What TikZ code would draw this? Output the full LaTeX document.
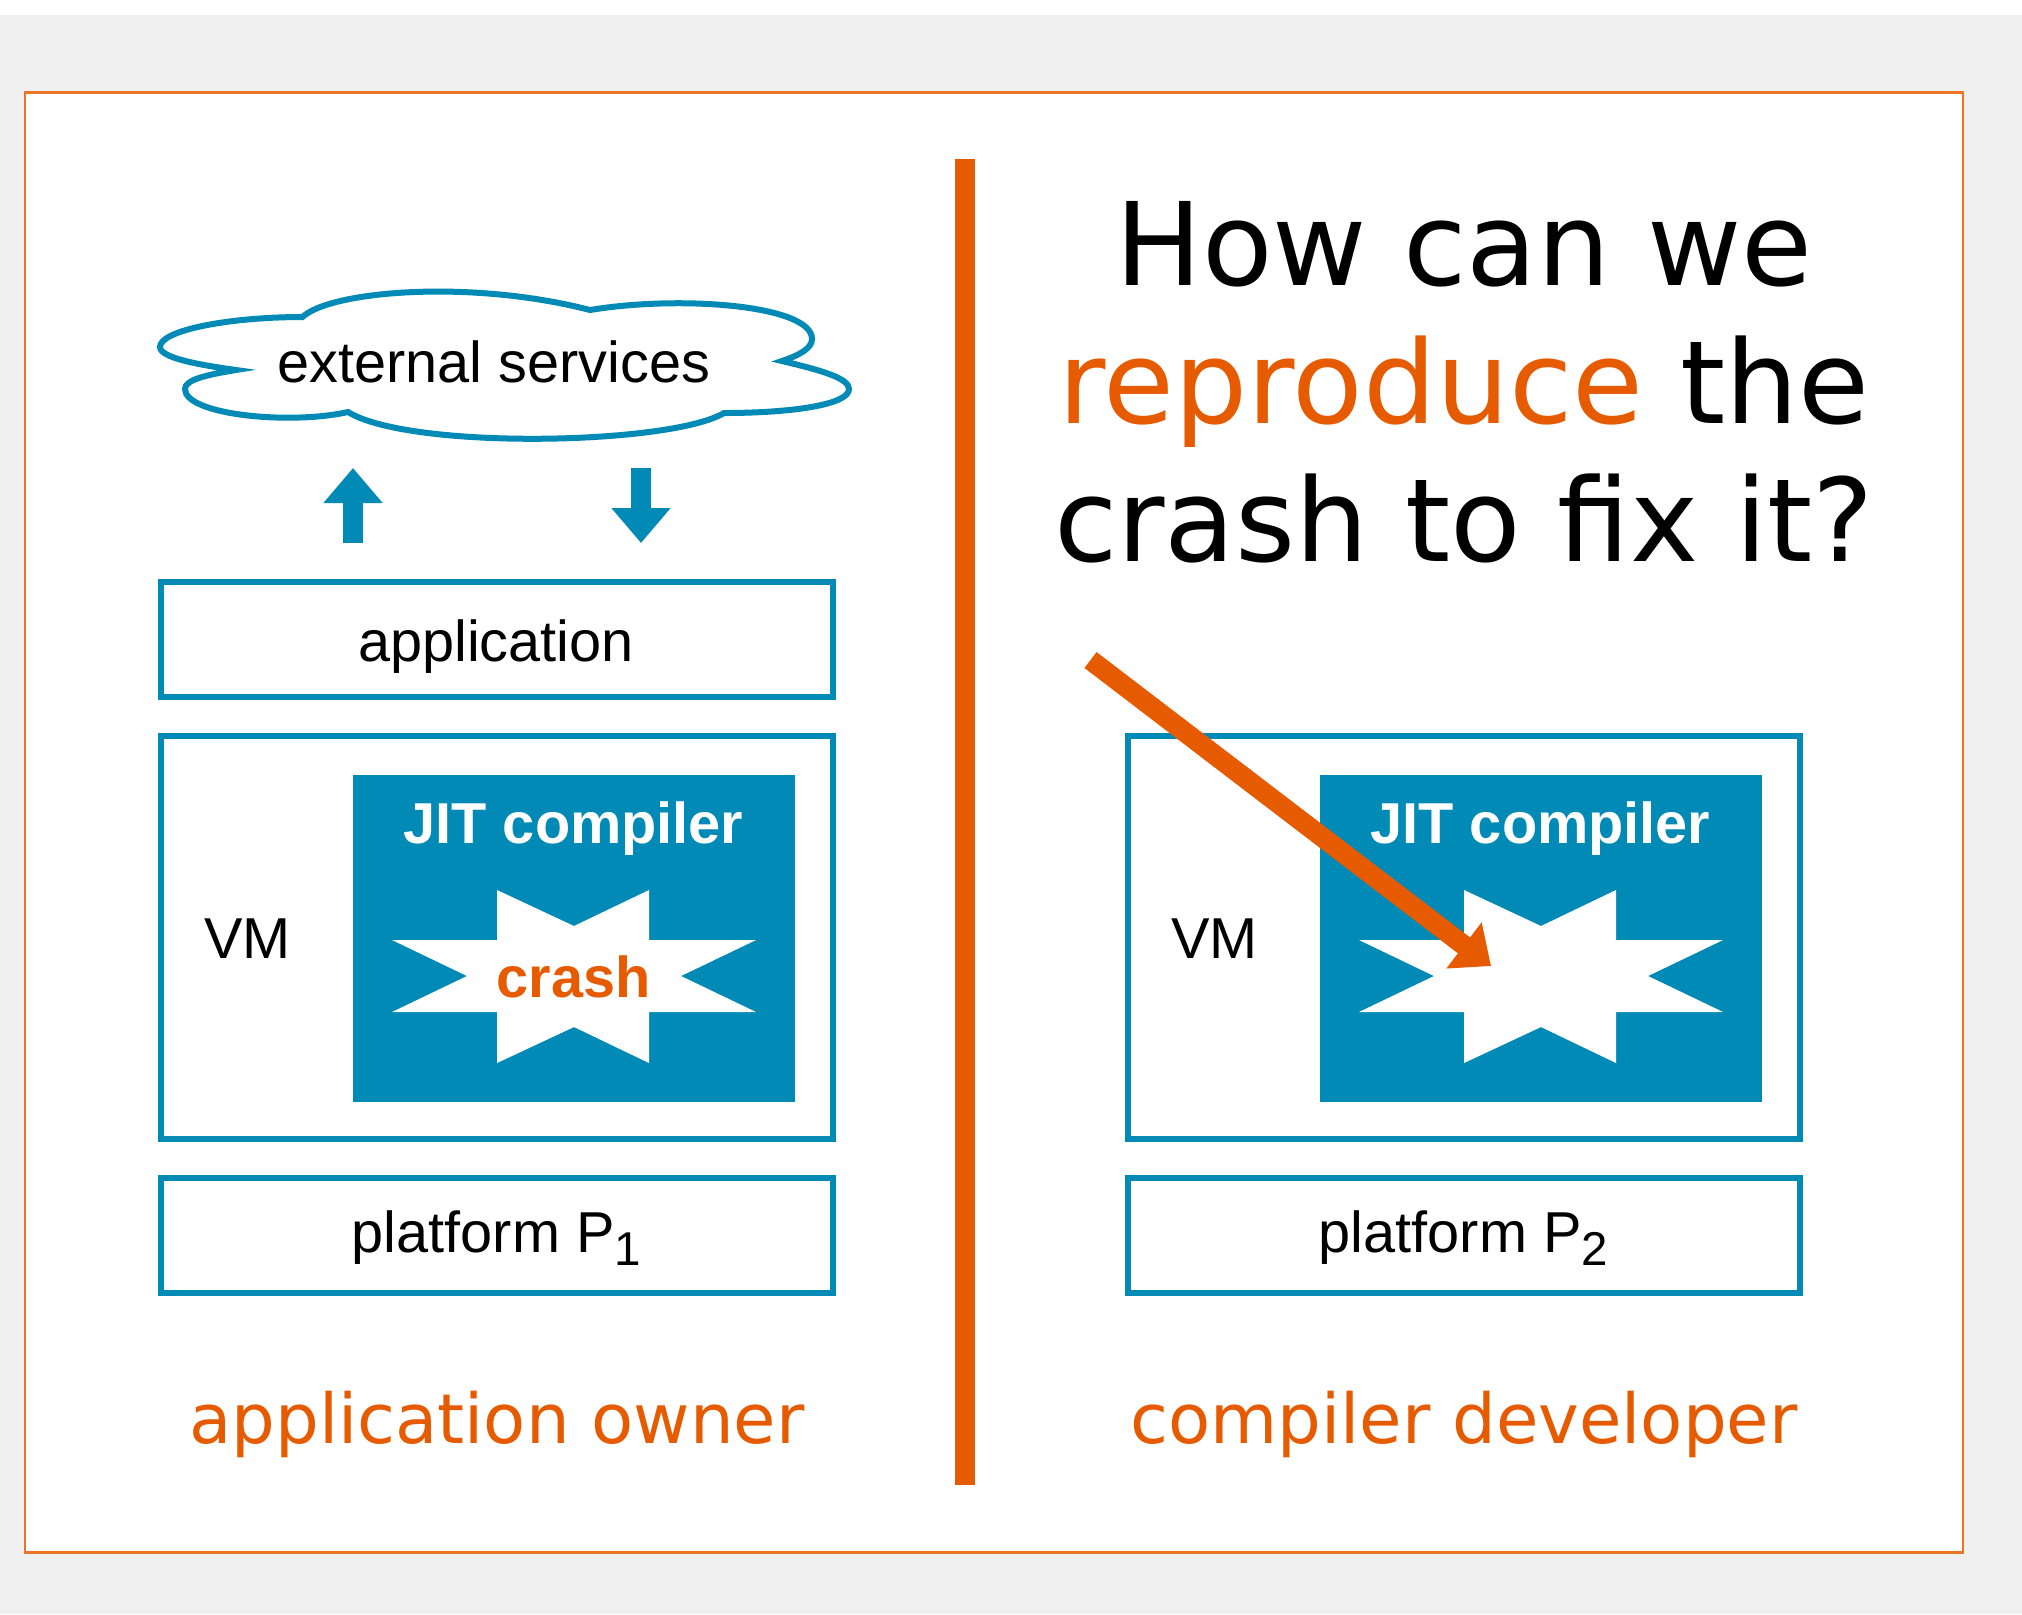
\documentclass[tikz,border=0pt]{standalone}
\usepackage{fontspec}
\setmainfont{Liberation Sans}
\newfontfamily\titlefont{DejaVu Sans}
\usetikzlibrary{arrows.meta}
\usepackage{xcolor}
\definecolor{myblue}{HTML}{018AB5}
\definecolor{myorange}{HTML}{E75B00}
\definecolor{mygray}{HTML}{F0F0F0}
\def\px{0.01cm} % one pixel of the reference
\tikzstyle{layer}=[draw=myblue,line width=6*\px,fill=white,inner sep=0]
\tikzstyle{label}=[inner sep=0,font=\fontsize{16.4}{19}\selectfont]
\tikzstyle{jit}=[fill=myblue,inner sep=0,minimum width=442*\px,minimum height=327*\px]
\tikzstyle{role}=[inner sep=0,myorange,font=\titlefont\fontsize{19.6}{24}\selectfont]
\tikzstyle{flow}=[myblue,line width=20*\px,-{Triangle[length=35*\px,width=57*\px]}]
\newcommand{\lowdigit}[1]{\raisebox{-0.22em}{\fontsize{13.5}{15}\selectfont #1}}

\begin{document}
\begin{tikzpicture}[x=\px,y=-\px]
      \useasboundingbox (0,0) rectangle (2022,1614);
      \fill[mygray] (0,15) rectangle (2022,1614);
      \draw[myorange!85,line width=2.5*\px,fill=white] (25,92.5) rectangle (1963,1552.5);
      \fill[myorange] (955,159) rectangle (975,1485);

      % CLOUD
      \draw[myblue,line width=6*\px,fill=white] (302.5,317)
        .. controls (330,291) and (470,279) .. (590,310)
        .. controls (680,295) and (812,305) .. (812,339)
        .. controls (812,348) and (800,355) .. (782,361)
        .. controls (820,370) and (849,378) .. (849,389)
        .. controls (849,405) and (790,413) .. (724,413)
        .. controls (670,445) and (410,450) .. (348,412)
        .. controls (290,425) and (185,415) .. (185,389)
        .. controls (185,380) and (205,375) .. (236,370)
        .. controls (200,365) and (160,358) .. (160,347)
        .. controls (160,330) and (230,317) .. (302.5,317) -- cycle;
      \node[label] (cloud) at (494,362) {external services};

      % DRAW ARROWS TO CLOUD
      \coordinate (up-from) at (353,543);
      \coordinate (up-to) at (353,468);
      \coordinate (down-from) at (641,468);
      \coordinate (down-to) at (641,543);
      \draw[flow] (up-from) -- (up-to);
      \draw[flow] (down-from) -- (down-to);

      \node[layer,minimum width=672*\px,minimum height=115*\px] (app) at (496.7,639.8) {};
      \node[label] (appname) at (496,646.5) {application};

      % DRAW BOTH STACKS
      \foreach \side/\off/\num in {L/0/1,R/967/2}{
        \begin{scope}[xshift=\off*\px]
          \node[layer,minimum width=672*\px,minimum height=403.3*\px] (VM-\side) at (496.7,937.3) {};
          \node[label] (VMname-\side) at (247.5,939) {VM};
          \node[jit] (JIT-\side) at (574,938.5) {};
          \node[label,white,font=\fontsize{16.4}{19}\selectfont\bfseries] (JITname-\side) at (573.5,829) {JIT compiler};
          \fill[white] (497,890) -- (574,926) -- (649,890) -- (649,940) -- (756,940) -- (681,976)
            -- (756,1012) -- (649,1012) -- (649,1063) -- (574,1027) -- (497,1063) -- (497,1012)
            -- (392,1012) -- (467,976) -- (392,940) -- (497,940) -- cycle;
          \node[layer,minimum width=672*\px,minimum height=114.7*\px] (plat-\side) at (496.7,1235.3) {};
          \node[label] (platname-\side) at (496.5,1238) {platform P\lowdigit{\num}};
          \ifnum\num=1 % only this side has crashed
            \node[label,myorange,font=\fontsize{16.4}{19}\selectfont\bfseries] (crash) at (573.5,977) {crash};
          \fi
        \end{scope}
      }

      \node[role,anchor=base] (owner) at (497,1443) {application owner};
      \node[role,anchor=base] (developer) at (1464,1443) {compiler developer};

      \node[inner sep=0,align=center,font=\titlefont\fontsize{32.8}{39.3}\selectfont] (question) at (1464,382)
        {How can we\\{\color{myorange}reproduce} the\\crash to fix it?};

      % ARROW INTO THE CRASH
      \coordinate (hint-from) at (1090.5,660);
      \coordinate (hint-to) at (1491,966);
      \draw[myorange,line width=20*\px,-{Triangle[length=34*\px,width=56*\px]}] (hint-from) -- (hint-to);
\end{tikzpicture}
\end{document}
